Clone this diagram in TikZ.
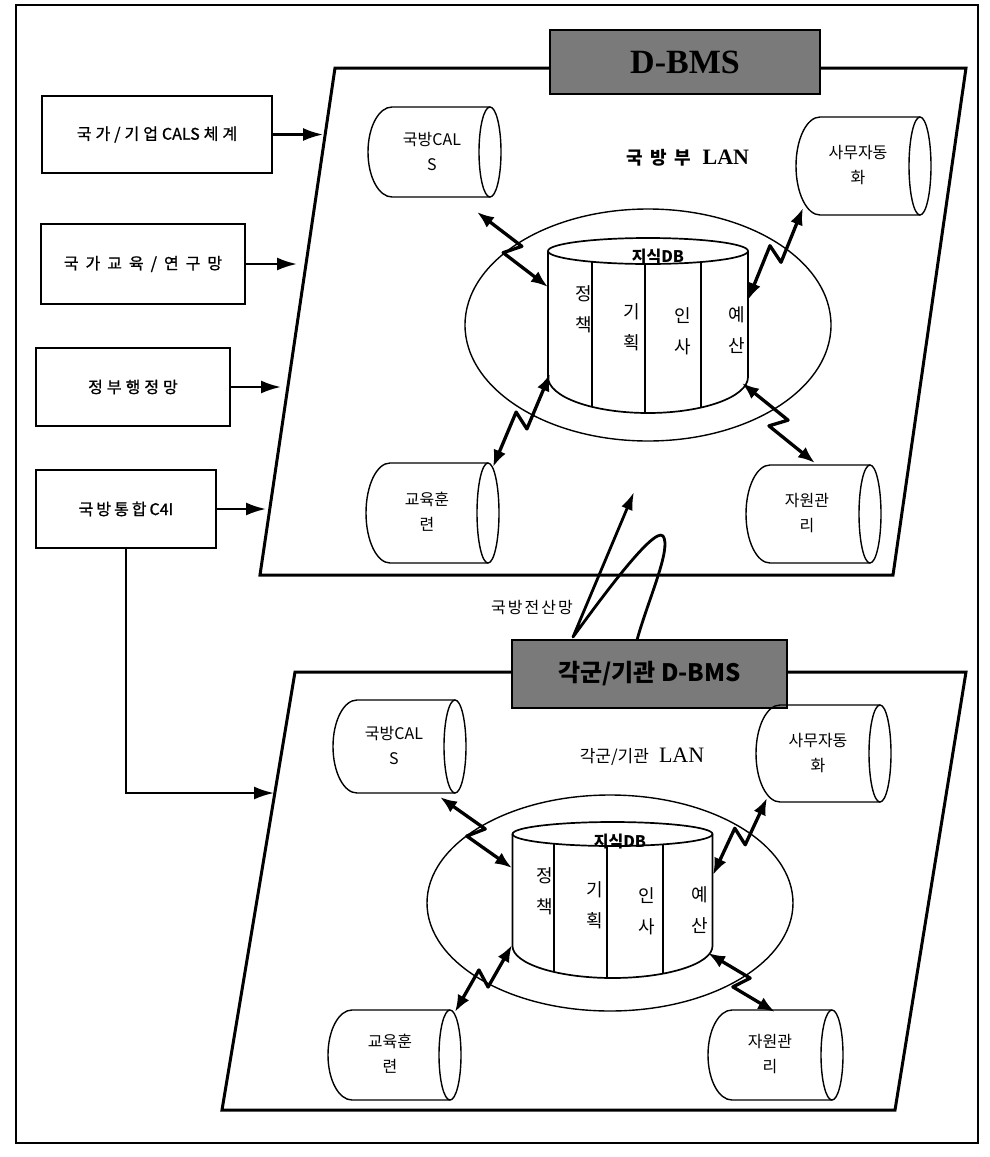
\documentclass[tikz,border=0pt]{standalone}
\usepackage{fontspec}
\setmainfont{Liberation Serif}
\newfontfamily\kr{Noto Sans CJK KR}
\newfontfamily\krm[FakeBold=1]{Noto Sans CJK KR}
\usetikzlibrary{arrows.meta,calc,shapes.geometric}
\newcommand\kgap[1][4pt]{\hspace{#1}}
\newcommand\hcyl[7]{%
  \pgfmathsetmacro\cyr{(#5-#4)/2}%
  \pgfmathsetmacro\cym{(#5+#4)/2}%
  \draw[cyl] (#3,#4) -- (#2,#4) arc[start angle=90,end angle=270,x radius=24pt,y radius=\cyr pt] -- (#3,#5);
  \draw[cyl] (#3,\cym) ellipse[x radius=11pt,y radius=\cyr pt];
  \node[ctext] (#1) at (#6,{\cym-1}) {#7};
}
% #1 cx, #2 top y, #3 bottom y, #4 top ry, #5 bottom ry
\newcommand\dbcyl[5]{%
  \draw[dbl] (#1,#2) ellipse[x radius=100pt,y radius=#4pt];
  \draw[dbl] ({#1-100},#2) -- ({#1-100},#3) arc[start angle=180,end angle=360,x radius=100pt,y radius=#5pt] -- ({#1+100},#2);
}
% #1 x, #2 cx, #3 top y, #4 bottom y, #5 top ry, #6 bottom ry
\newcommand\dbdiv[6]{%
  \draw[divl] (#1,{#3+#5*sqrt(1-((#1-#2)/100)^2)}) -- (#1,{#4+#6*sqrt(1-((#1-#2)/100)^2)});
}
\newcommand\zz[2]{%
  \draw[link] (#1) -- ($(#1)!0.54!(#2)!9pt!90:(#2)$) -- ($(#1)!0.46!(#2)!9pt!-90:(#2)$) -- (#2);
}
\begin{document}
\begin{tikzpicture}[x=1pt,y=-1pt,
  frame/.style={line width=2.4pt},
  para/.style={line width=3pt,line join=miter},
  lbox/.style={draw,line width=2.8pt,inner sep=0pt,font=\krm\fontsize{16}{18}\selectfont},
  feed/.style={line width=2.3pt,-{Latex[length=20pt,width=13pt]}},
  cyl/.style={line width=1.4pt},
  dbl/.style={line width=1.7pt},
  divl/.style={line width=1.4pt},
  ell/.style={draw,ellipse,line width=1.4pt,inner sep=0pt},
  ctext/.style={font=\kr\fontsize{16}{25}\selectfont,align=center,inner sep=0pt},
  dbtext/.style={font=\kr\fontsize{18}{31}\selectfont,align=center,inner sep=0pt},
  dbtitle/.style={font=\kr\bfseries\fontsize{16}{18}\selectfont,inner sep=0pt},
  link/.style={line width=3.3pt,{Latex[length=17pt,width=13pt]}-{Latex[length=17pt,width=13pt]},line join=round},
  hdr/.style={draw,line width=2.6pt,fill=black!52,inner sep=0pt},
]
\useasboundingbox (0,0) rectangle (989,1157);
\fill[white] (0,0) rectangle (989,1157);
\draw[frame] (16,5) rectangle (978,1143);

% ---------- top section ----------
\draw[para] (335,68) -- (966,68) -- (893,575) -- (260,575) -- cycle;
\node[hdr,minimum width=270pt,minimum height=64pt] (h1) at (685,62) {\bfseries\fontsize{34}{36}\selectfont D-BMS};

\node[inner sep=0pt] (lan1) at (688,158) {\kr\bfseries\fontsize{18}{20}\selectfont 국\kgap[7pt]방\kgap[7pt]부\hspace{12pt}\rmfamily\bfseries\fontsize{22}{24}\selectfont LAN};

\node[ell,minimum width=366pt,minimum height=232pt] (e1) at (648,325) {};
\dbcyl{648}{251}{377}{13}{36}
\dbdiv{592}{648}{251}{377}{13}{36}
\dbdiv{645}{648}{251}{377}{13}{36}
\dbdiv{701}{648}{251}{377}{13}{36}
\node[dbtitle] (db1) at (658,257) {지식DB};
\node[dbtext] (d11) at (584,309) {정\\책};
\node[dbtext] (d12) at (632,327) {기\\획};
\node[dbtext] (d13) at (683,331) {인\\사};
\node[dbtext] (d14) at (737,330) {예\\산};

\hcyl{c1}{392}{490}{107}{197}{432}{국방CAL\\S}
\hcyl{c2}{820}{920}{117}{215}{858}{사무자동\\화}
\hcyl{c3}{390}{488}{463}{563}{427}{교육훈\\련}
\hcyl{c4}{770}{870}{465}{563}{807}{자원관\\리}

\coordinate (p1) at (477,212); \coordinate (q1) at (548,287);
\coordinate (p2) at (803,208); \coordinate (q2) at (748,300);
\coordinate (p3) at (493,467); \coordinate (q3) at (550,374);
\coordinate (p4) at (815,463); \coordinate (q4) at (742,383);
\zz{p1}{q1}
\zz{q2}{p2}
\zz{q3}{p3}
\zz{q4}{p4}

% ---------- left feeders ----------
\node[lbox,minimum width=230pt,minimum height=77pt] (b1) at (157,134.5) {국\kgap 가\kgap /\kgap 기\kgap 업\kgap CALS\kgap 체\kgap 계};
\node[lbox,minimum width=204pt,minimum height=80pt] (b2) at (143,264) {국\kgap[7pt]가\kgap[7pt]교\kgap[7pt]육\kgap[7pt]/\kgap[7pt]연\kgap[7pt]구\kgap[7pt]망};
\node[lbox,minimum width=194pt,minimum height=78pt] (b3) at (133,387) {정\kgap 부\kgap 행\kgap 정\kgap 망};
\node[lbox,minimum width=180pt,minimum height=78pt] (b4) at (126,509) {국\kgap[3pt]방\kgap[3pt]통\kgap[3pt]합\kgap[3pt]C4I};
\coordinate (t1) at (323,134.5);
\coordinate (t2) at (297,264);
\coordinate (t3) at (281,387);
\coordinate (t4) at (266,509);
\coordinate (t5) at (274,793);
\draw[feed] (b1.east) -- (t1);
\draw[feed] (b2.east) -- (t2);
\draw[feed] (b3.east) -- (t3);
\draw[feed] (b4.east) -- (t4);
\draw[feed] (b4.south) |- (t5);

% ---------- bottom section ----------
\draw[para] (295,672) -- (966,672) -- (895,1110) -- (222,1110) -- cycle;
\node[hdr,minimum width=275pt,minimum height=68pt] (h2) at (649.5,674) {\kr\bfseries\fontsize{24}{26}\selectfont 각군/기관 D-BMS};

\node[inner sep=0pt] (lan2) at (642,757) {\kr\fontsize{17}{20}\selectfont 각군/기관\hspace{10pt}\rmfamily\fontsize{22}{24}\selectfont LAN};

\node[ell,minimum width=366pt,minimum height=216pt] (e2) at (610,903) {};
\dbcyl{612.5}{834}{946}{12}{32}
\dbdiv{554}{612.5}{834}{946}{12}{32}
\dbdiv{607}{612.5}{834}{946}{12}{32}
\dbdiv{663}{612.5}{834}{946}{12}{32}
\node[dbtitle] (db2) at (620,842) {지식DB};
\node[dbtext] (d21) at (545,891) {정\\책};
\node[dbtext] (d22) at (595,905) {기\\획};
\node[dbtext] (d23) at (647,911) {인\\사};
\node[dbtext] (d24) at (700,910) {예\\산};

\hcyl{c5}{357}{455}{700}{793}{394}{국방CAL\\S}
\hcyl{c6}{780}{880}{705}{802}{818}{사무자동\\화}
\hcyl{c7}{352}{450}{1010}{1100}{390}{교육훈\\련}
\hcyl{c8}{732}{832}{1010}{1100}{770}{자원관\\리}

\coordinate (p5) at (440,797); \coordinate (q5) at (512,868);
\coordinate (p6) at (767,798); \coordinate (q6) at (713,875);
\coordinate (p7) at (455,1012); \coordinate (q7) at (512,945);
\coordinate (p8) at (775,1012); \coordinate (q8) at (708,953);
\zz{p5}{q5}
\zz{q6}{p6}
\zz{q7}{p7}
\zz{q8}{p8}

% ---------- inter-network link ----------
\coordinate (ls) at (637,640);
\coordinate (lt) at (634,492);
\draw[line width=2.8pt,line join=round,-{Latex[length=18pt,width=12pt]}] (ls) .. controls (648,600) and (672,548) .. (663,536) .. controls (654,526) and (600,600) .. (573,637) -- (lt);
\node[inner sep=0pt] (net) at (532,607) {\kr\fontsize{16}{18}\selectfont 국\kgap[2pt]방\kgap[2pt]전\kgap[2pt]산\kgap[2pt]망};
\end{tikzpicture}
\end{document}
